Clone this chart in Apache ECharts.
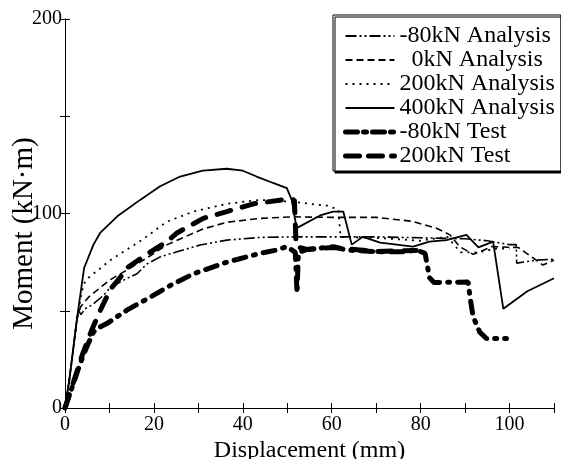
<!DOCTYPE html>
<html><head><meta charset="utf-8">
<script src="https://cdn.jsdelivr.net/npm/echarts@6/dist/echarts.min.js"></script>
<style>html,body{margin:0;padding:0;background:#fff}#c{width:561px;height:459px}</style>
</head><body><div id="c"></div>
<script>
const xTicks = [0, 20, 40, 60, 80, 100];
const yTicks = [0, 100, 200];
const seriesNames = ['-80kN Analysis', '0kN Analysis', '200kN Analysis', '400kN Analysis', '-80kN Test', '200kN Test'];

const m80Analysis = [[0,0],[1,15],[2,33],[2.7,46],[3.1,50],[3.6,48],[4.5,51],[6.1,53],[8.7,58],[10.2,62],[13.9,66.6],[16.2,69],[18.4,74],[21.4,77.7],[25.2,80.3],[30.4,83.8],[36.4,86.3],[43.9,87.7],[51.4,88],[60,88],[70,88],[80,87.5],[90,87],[95,86],[100,84],[101.5,84],[101.6,74.5],[106,76],[110,76.5]];
const k0Analysis = [[0,0],[1,15],[2,33],[2.7,46],[3.5,52],[5.3,57],[8,62],[10.2,66],[14.7,72],[19,78],[23,84],[27,88],[31,92],[36.4,95.5],[44,97.5],[51.3,98.3],[60,98],[70,98],[78,96],[83.6,92.4],[86.6,89],[88.8,83],[91.8,79],[94,81],[96,83],[102,82.5],[106,76],[107.5,73.5],[110,76]];
const k200Analysis = [[0,0],[1,15],[2,33],[2.7,46],[3.8,60],[4.5,65],[5.3,67],[10.2,76],[17.7,87],[22.9,95.8],[28.9,101],[36.4,105],[43.9,107],[51.4,106],[55,105],[59,104],[61.5,102],[62,88],[70,87.5],[80,86],[86,88],[89,80],[93,80],[97,82],[100,82]];
const k400Analysis = [[0,0],[1,15],[2,33],[2.7,46],[4.3,72],[6.4,84],[7.9,90],[12,99],[16.9,107],[21.4,114],[25.9,119],[31,122],[36.4,123],[40,122],[43.1,119],[46.8,115.7],[49.9,113],[51,107],[52.1,92.5],[57.4,99],[60.3,101],[62.6,101],[64.5,84],[67,88],[70.9,85],[74.6,84],[78.3,83],[82,85.5],[85.8,86.3],[90.3,89],[93,82.6],[96.3,85.5],[98.6,51],[104,60],[110,66.7]];
const m80Test = [[0,0],[1.5,10],[3.4,22.8],[5,32],[6.4,39],[7.2,40.8],[9.4,43.4],[13.9,50.3],[19.2,57],[23.7,63],[28.9,69],[36.4,75],[43.9,79.5],[47.6,81.2],[49.9,83],[51.8,80],[52.2,59],[52.5,80],[54.4,81.5],[60.4,82.9],[63.4,81.2],[70.9,80.3],[76,80.3],[79.1,81.2],[81,79.5],[82,67],[83,64.5],[90.7,64.8],[91.1,57],[91.8,47],[93.3,39],[94.8,35.7],[99.3,35.7]];
const k200Test = [[0,0],[2,14],[4,28],[6,40],[7.9,50],[10.2,61],[12.4,67],[13.9,72],[18.4,79],[22.9,85.5],[25.2,90],[31.1,97.5],[36.4,101],[42.4,105],[49.9,107.3],[51.6,107],[52,83],[54.4,81.5],[60.4,82.5],[70,80.5],[79,81]];

const dataSets = [m80Analysis, k0Analysis, k200Analysis, k400Analysis, m80Test, k200Test];
const styles = [
  {width:1.6, type:[11,3,2,3,2,3]},
  {width:1.6, type:[7,4]},
  {width:1.8, type:[2,5]},
  {width:1.8, type:'solid'},
  {width:5, type:[12,8,2,8], cap:'round'},
  {width:5, type:[14,12], cap:'round'}
];
const legendStyles = [
  {width:2, type:[11,3,2,3,2,3]},
  {width:2, type:[7,4]},
  {width:2, type:[2,5]},
  {width:2.2, type:'solid'},
  {width:5, type:[12,6,3,6], cap:'round'},
  {width:5, type:[14,9], cap:'round'}
];

const font = 'Liberation Serif';
const chart = echarts.init(document.getElementById('c'), null, {renderer:'canvas'});
chart.setOption({
  animation:false,
  backgroundColor:'#fff',
  grid:{left:65, right:7, top:19, bottom:51, outerBoundsMode:'none', containLabel:false},
  legend:{
    orient:'vertical', left:333, top:15,
    backgroundColor:'#fff', borderColor:'#000', borderWidth:1,
    shadowColor:'#000', shadowOffsetX:2, shadowOffsetY:2, shadowBlur:0,
    padding:[9,6,3,10], itemGap:0, itemWidth:49, itemHeight:14,
    itemStyle:{opacity:0},
    textStyle:{fontFamily:font, fontSize:24, lineHeight:22, color:'#000'},
    formatter: n => n === '0kN Analysis' ? '\u2002' + n : n,
    data: seriesNames.map((n,i)=>({name:n, lineStyle:Object.assign({color:'#000'}, legendStyles[i])}))
  },
  xAxis:[{
    type:'value', min:0, max:110, interval:10,
    name:'Displacement (mm)', nameLocation:'middle', nameGap:31, nameMoveOverlap:false,
    nameTextStyle:{fontFamily:font, fontSize:24, color:'#000'},
    axisLine:{lineStyle:{color:'#000', width:1}},
    axisTick:{inside:true, length:5, lineStyle:{color:'#000'}},
    axisLabel:{fontFamily:font, fontSize:20, color:'#000', margin:7,
      formatter: v => xTicks.includes(v) ? String(v) : ''},
    splitLine:{show:false}
  },{
    type:'value', min:0, max:110, interval:10, position:'top',
    axisLine:{lineStyle:{color:'#000', width:1}},
    axisTick:{inside:true, length:5, lineStyle:{color:'#000'}},
    axisLabel:{show:false}, splitLine:{show:false}
  }],
  yAxis:[{
    type:'value', min:0, max:200, interval:50,
    name:'Moment (kN\u00b7m)', nameLocation:'middle', nameGap:26, nameMoveOverlap:false,
    nameTextStyle:{fontFamily:font, fontSize:29, color:'#000', padding:[0,40,0,0]},
    axisLine:{show:true, lineStyle:{color:'#000', width:1}},
    axisTick:{show:true, inside:true, length:5, lineStyle:{color:'#000'}},
    axisLabel:{fontFamily:font, fontSize:20, color:'#000', margin:3,
      formatter: v => yTicks.includes(v) ? String(v) : ''},
    splitLine:{show:false}
  },{
    type:'value', min:0, max:200, interval:50, position:'right',
    axisLine:{show:true, lineStyle:{color:'#000', width:1}},
    axisTick:{show:true, inside:true, length:5, lineStyle:{color:'#000'}},
    axisLabel:{show:false}, splitLine:{show:false}
  }],
  series: seriesNames.map((n,i)=>({
    name:n, type:'line', data:dataSets[i], symbol:'none', smooth:false,
    color:'#000',
    lineStyle:Object.assign({color:'#000'}, styles[i])
  }))
});
</script></body></html>
